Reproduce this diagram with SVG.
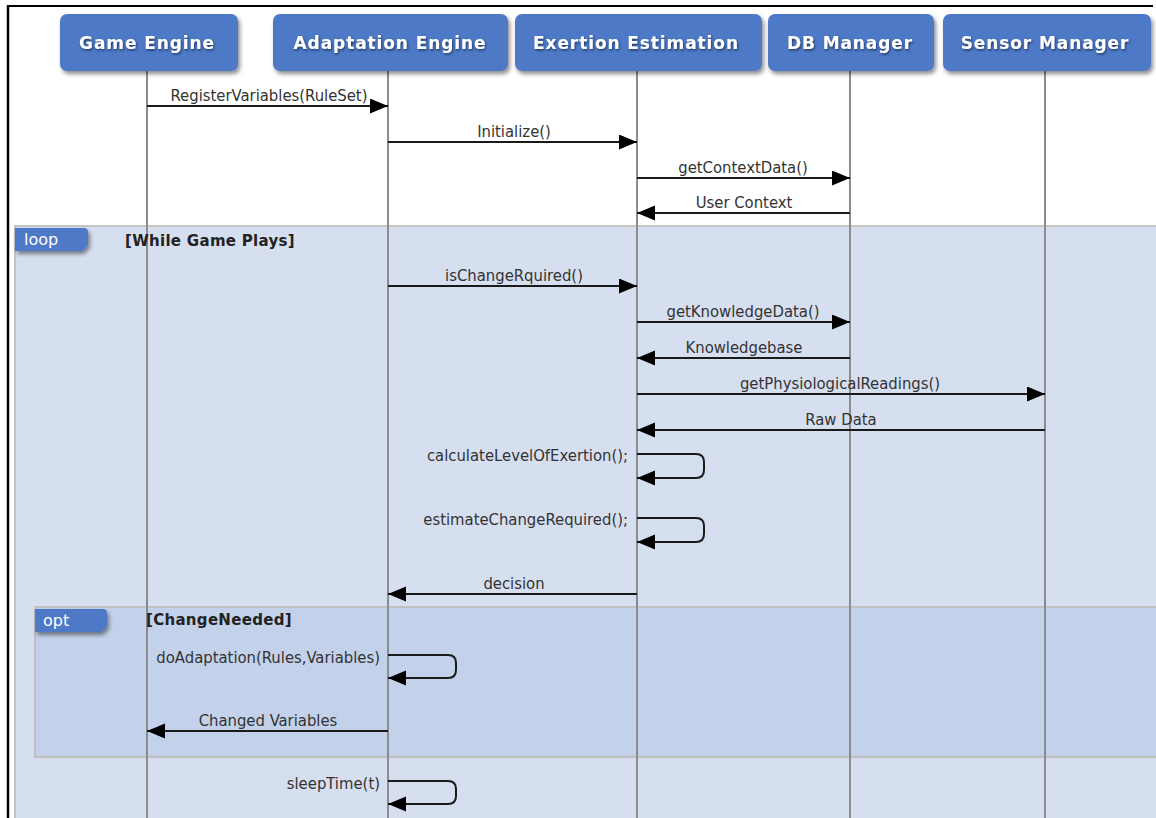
<svg xmlns="http://www.w3.org/2000/svg" width="1156" height="818" viewBox="0 0 1156 818">
  <style>
    .hdr { fill: #4E79C7; }
    .hdr-text { font-family: "DejaVu Sans", Verdana, sans-serif; font-weight: bold; font-size: 17px; letter-spacing: 0.9px; fill: #FFFFFF; text-anchor: middle; }
    .lifeline { stroke: #8C8C8C; stroke-width: 2; fill: none; }
    .msg { stroke: #1A1A1A; stroke-width: 2; fill: none; }
    .lbl { font-family: "DejaVu Sans Condensed", "DejaVu Sans", sans-serif; font-size: 16.5px; fill: #333333; }
    .mid { text-anchor: middle; }
    .end { text-anchor: end; }
    .tab { fill: #4E79C7; }
    .tab-text { font-family: "DejaVu Sans", Verdana, sans-serif; font-size: 16px; fill: #FFFFFF; }
    .guard { font-family: "DejaVu Sans", Verdana, sans-serif; font-weight: bold; font-size: 15px; letter-spacing: 0.3px; fill: #222222; }
  </style>
  <defs>
    <marker id="arrow" markerUnits="userSpaceOnUse" markerWidth="18" markerHeight="16" refX="18" refY="7.5" orient="auto">
      <path d="M0,0 L18,7.5 L0,15 Z" fill="#000000"/>
    </marker>
    <filter id="boxShadow" x="-10%" y="-20%" width="125%" height="150%">
      <feDropShadow dx="2" dy="3" stdDeviation="2" flood-color="#000000" flood-opacity="0.45"/>
    </filter>
    <filter id="textShadow" x="-5%" y="-30%" width="115%" height="170%">
      <feDropShadow dx="1" dy="1.5" stdDeviation="1" flood-color="#1B2A4A" flood-opacity="0.8"/>
    </filter>
  </defs>

  <!-- page background -->
  <rect x="0" y="0" width="1156" height="818" fill="#FFFFFF"/>

  <!-- combined fragments -->
  <g id="frame-loop">
    <rect x="15" y="226" width="1145" height="600" fill="#D6DFF0" stroke="#C4C4C4" stroke-width="2"/>
  </g>
  <g id="frame-opt">
    <rect x="35" y="607" width="1125" height="150" fill="#C3D1EA" stroke="#C0C0C0" stroke-width="2"/>
  </g>

  <!-- lifelines -->
  <g id="lifelines">
    <line class="lifeline" x1="147" y1="71" x2="147" y2="818"/>
    <line class="lifeline" x1="388" y1="71" x2="388" y2="818"/>
    <line class="lifeline" x1="637" y1="71" x2="637" y2="818"/>
    <line class="lifeline" x1="850" y1="71" x2="850" y2="818"/>
    <line class="lifeline" x1="1045" y1="71" x2="1045" y2="818"/>
  </g>

  <!-- fragment tabs and guards -->
  <g id="loop-tab">
    <path class="tab" d="M15,228 H84 Q88,228 88,232 V245 L82,251 H15 Z" filter="url(#boxShadow)"/>
    <text class="tab-text" x="24" y="245">loop</text>
    <text class="guard" x="125" y="246">[While Game Plays]</text>
  </g>
  <g id="opt-tab">
    <path class="tab" d="M35,609 H103 Q107,609 107,613 V626 L101,632 H35 Z" filter="url(#boxShadow)"/>
    <text class="tab-text" x="43" y="626">opt</text>
    <text class="guard" x="146" y="625">[ChangeNeeded]</text>
  </g>

  <!-- participant heads -->
  <g id="game-engine">
    <rect class="hdr" x="60" y="14" width="178" height="57" rx="7" filter="url(#boxShadow)"/>
    <text class="hdr-text" x="147" y="49" filter="url(#textShadow)">Game Engine</text>
  </g>
  <g id="adaptation-engine">
    <rect class="hdr" x="273" y="14" width="235" height="57" rx="7" filter="url(#boxShadow)"/>
    <text class="hdr-text" x="390" y="49" filter="url(#textShadow)">Adaptation Engine</text>
  </g>
  <g id="exertion-estimation">
    <rect class="hdr" x="515" y="14" width="247" height="57" rx="7" filter="url(#boxShadow)"/>
    <text class="hdr-text" x="636" y="49" filter="url(#textShadow)">Exertion Estimation</text>
  </g>
  <g id="db-manager">
    <rect class="hdr" x="768" y="14" width="166" height="57" rx="7" filter="url(#boxShadow)"/>
    <text class="hdr-text" x="850" y="49" filter="url(#textShadow)">DB Manager</text>
  </g>
  <g id="sensor-manager">
    <rect class="hdr" x="943" y="14" width="208" height="57" rx="7" filter="url(#boxShadow)"/>
    <text class="hdr-text" x="1045" y="49" filter="url(#textShadow)">Sensor Manager</text>
  </g>

  <!-- messages -->
  <g id="connectors">
    <line class="msg" x1="147" y1="106" x2="388" y2="106" marker-end="url(#arrow)"/>
    <text class="lbl mid" x="269" y="101">RegisterVariables(RuleSet)</text>

    <line class="msg" x1="388" y1="142" x2="637" y2="142" marker-end="url(#arrow)"/>
    <text class="lbl mid" x="514" y="137">Initialize()</text>

    <line class="msg" x1="637" y1="178" x2="850" y2="178" marker-end="url(#arrow)"/>
    <text class="lbl mid" x="743" y="173">getContextData()</text>

    <line class="msg" x1="850" y1="213" x2="637" y2="213" marker-end="url(#arrow)"/>
    <text class="lbl mid" x="744" y="208">User Context</text>

    <line class="msg" x1="388" y1="286" x2="637" y2="286" marker-end="url(#arrow)"/>
    <text class="lbl mid" x="514" y="281">isChangeRquired()</text>

    <line class="msg" x1="637" y1="322" x2="850" y2="322" marker-end="url(#arrow)"/>
    <text class="lbl mid" x="743" y="317">getKnowledgeData()</text>

    <line class="msg" x1="850" y1="358" x2="637" y2="358" marker-end="url(#arrow)"/>
    <text class="lbl mid" x="744" y="353">Knowledgebase</text>

    <line class="msg" x1="637" y1="394" x2="1045" y2="394" marker-end="url(#arrow)"/>
    <text class="lbl mid" x="840" y="389">getPhysiologicalReadings()</text>

    <line class="msg" x1="1045" y1="430" x2="637" y2="430" marker-end="url(#arrow)"/>
    <text class="lbl mid" x="841" y="425">Raw Data</text>

    <path class="msg" d="M637,454 H696 Q704,454 704,462 V470 Q704,478 696,478 H637" marker-end="url(#arrow)"/>
    <text class="lbl end" x="628" y="461">calculateLevelOfExertion();</text>

    <path class="msg" d="M637,518 H696 Q704,518 704,526 V534 Q704,542 696,542 H637" marker-end="url(#arrow)"/>
    <text class="lbl end" x="628" y="525">estimateChangeRequired();</text>

    <line class="msg" x1="637" y1="594" x2="388" y2="594" marker-end="url(#arrow)"/>
    <text class="lbl mid" x="514" y="589">decision</text>

    <path class="msg" d="M388,655 H448 Q456,655 456,663 V670 Q456,678 448,678 H388" marker-end="url(#arrow)"/>
    <text class="lbl end" x="380" y="663">doAdaptation(Rules,Variables)</text>

    <line class="msg" x1="388" y1="731" x2="147" y2="731" marker-end="url(#arrow)"/>
    <text class="lbl mid" x="268" y="726">Changed Variables</text>

    <path class="msg" d="M388,781 H448 Q456,781 456,789 V796 Q456,804 448,804 H388" marker-end="url(#arrow)"/>
    <text class="lbl end" x="380" y="789">sleepTime(t)</text>
  </g>

  <!-- outer page edge -->
  <g id="page-edge">
    <line x1="7" y1="6" x2="1153" y2="6" stroke="#000000" stroke-width="2"/>
    <line x1="8" y1="5" x2="8" y2="818" stroke="#000000" stroke-width="2.5"/>
  </g>
</svg>
